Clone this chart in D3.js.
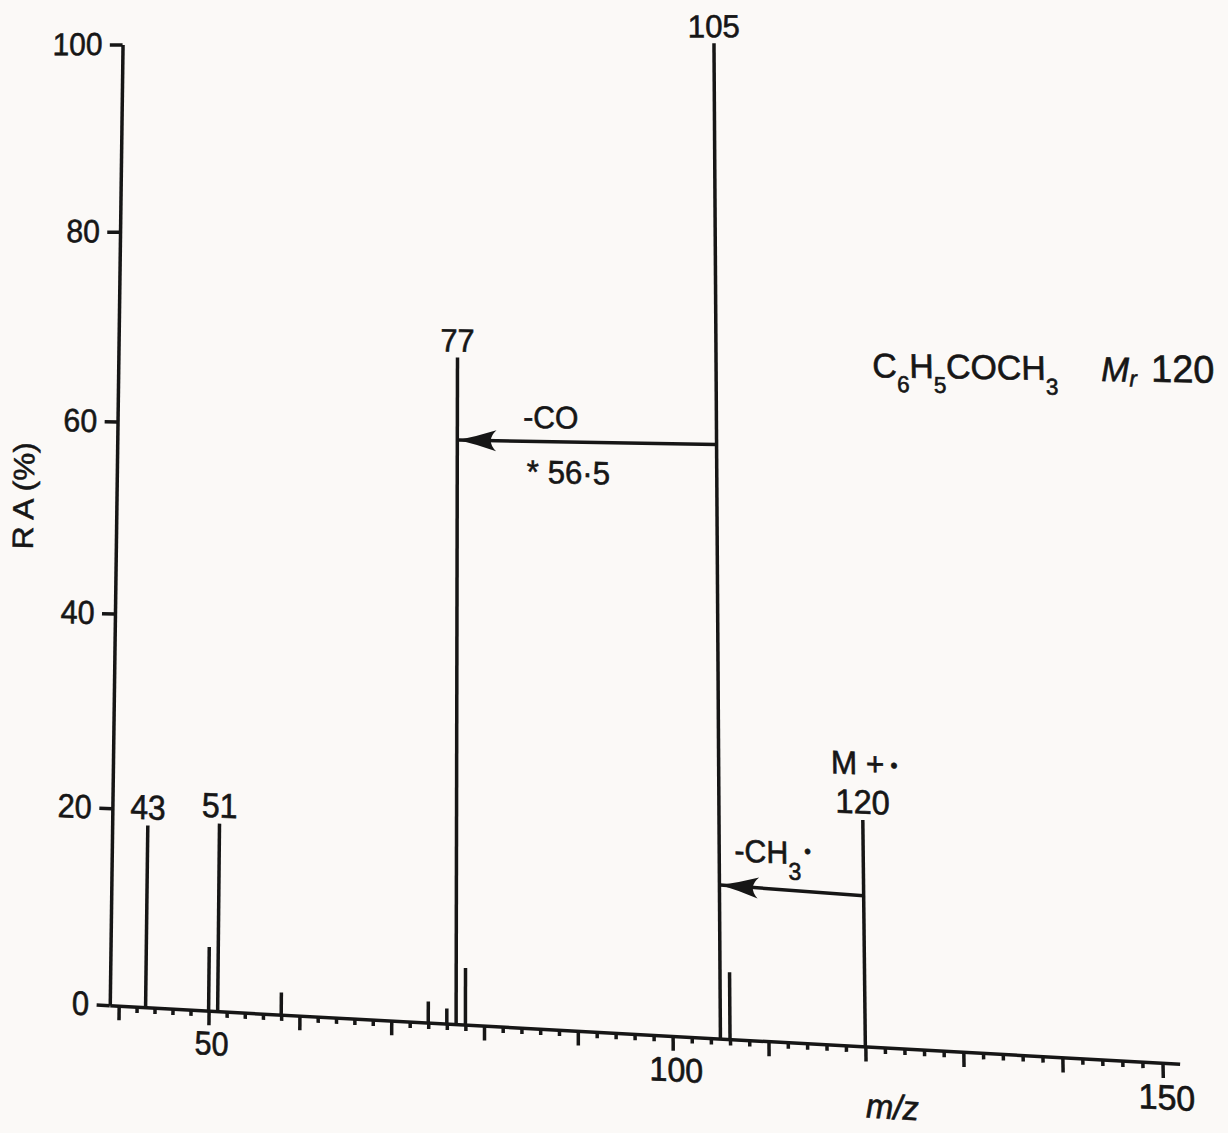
<!DOCTYPE html>
<html>
<head>
<meta charset="utf-8">
<script src="https://cdn.jsdelivr.net/npm/d3@7"></script>
<style>
  html, body { margin: 0; padding: 0; width: 1228px; height: 1133px; overflow: hidden; background: #fbf9f7; }
  #chart { position: absolute; left: 0; top: 0; }
  text { font-family: "Liberation Sans", Arial, sans-serif; fill: #161616; stroke: #161616; stroke-width: 0.6px; }
</style>
</head>
<body>
<svg id="chart" width="1228" height="1133"></svg>
<script>
// ---------------- data ----------------
const mzValues = [43, 50, 51, 58, 74, 76, 77, 78, 105, 106, 120];
const raValues = [18.4, 6.4, 18.9, 2.2, 2.1, 1.5, 67.3, 5.6, 100, 6.5, 22.0];
const labeledPeaks = [43, 51, 77, 105, 120];
const yTickValues = [0, 20, 40, 60, 80, 100];
const xTickValues = d3.range(40, 151, 2);
const xTickLabels = [50, 100, 150];
const yAxisTitle = "R A (%)";
const xAxisTitle = "m/z";
// fragmentation arrows: [from m/z, RA at start, to m/z, RA at tip]
const lossArrows = [[105, 58.9, 77, 58.8], [120, 14.6, 105, 15.0]];

// camera calibration of the photographed page: [m/z, RA, photo x, photo y]
const photoCalibration = [
  [39, 0, 109, 1007], [40, 0, 117, 1008], [50, 0, 210, 1010], [80, 0, 488, 1019],
  [100, 0, 675, 1031], [120, 0, 863, 1043], [140, 0, 1064, 1062], [150, 0, 1163, 1068],
  [39, 20, 110, 812], [39, 40, 115, 617], [39, 60, 118, 422], [39, 80, 121, 231],
  [39, 100, 124, 42], [105, 100, 712, 44], [105, 0, 717, 1035]
];

// ---------------- chart (flat page coordinates) ----------------
const ink = "#161616";
const lw = 3.5;
const svg = d3.select("#chart");
svg.append("rect").attr("width", 1228).attr("height", 1133).attr("fill", "#fbf9f7");
const plot = svg.append("g");
const x = d3.scaleLinear().domain([39, 151.7]).range([110, 1180]);
const y = d3.scaleLinear().domain([0, 100]).range([1008, 42]);
const at = (mz, ra) => [x(mz), y(ra)];

const defs = svg.append("defs");
defs.append("marker")
  .attr("id", "barb").attr("markerUnits", "userSpaceOnUse")
  .attr("viewBox", "-42 -13 44 26").attr("refX", 0).attr("refY", 0)
  .attr("markerWidth", 44).attr("markerHeight", 26).attr("orient", "auto")
  .append("path")
  .attr("d", "M0,0 Q-18,-4 -38,-10.5 Q-27,0 -38,10.5 Q-18,4 0,0Z")
  .attr("fill", ink);

// y axis
const gy = plot.append("g").attr("transform", `translate(${x(39)},0)`)
  .call(d3.axisLeft(y).tickValues(yTickValues).tickSize(14).tickSizeOuter(0).tickPadding(8));
gy.attr("color", ink).attr("font-family", null).attr("font-size", null);
gy.select(".domain").attr("stroke-width", lw);
gy.selectAll(".tick line").attr("stroke-width", lw);
gy.selectAll(".tick text").style("font-size", "33px");

// x axis
const gx = plot.append("g").attr("transform", `translate(0,${y(0)})`)
  .call(d3.axisBottom(x).tickValues(xTickValues).tickSizeOuter(0)
    .tickFormat(d => xTickLabels.includes(d) ? d : ""));
gx.attr("color", ink).attr("font-family", null).attr("font-size", null);
gx.select(".domain").attr("stroke-width", lw);
gx.selectAll(".tick line").attr("stroke-width", lw).attr("y2", d => d % 10 === 0 ? 14 : 6);
gx.selectAll(".tick text").attr("y", 20).attr("dx", 3).style("font-size", "32px");

// peaks
const peaks = mzValues.map((mz, i) => ({ mz, ra: raValues[i] }));
plot.append("g").selectAll("line").data(peaks).join("line")
  .attr("x1", d => x(d.mz)).attr("x2", d => x(d.mz))
  .attr("y1", y(0)).attr("y2", d => y(d.ra))
  .attr("stroke", ink).attr("stroke-width", lw);

plot.append("g").selectAll("text").data(peaks.filter(d => labeledPeaks.includes(d.mz))).join("text")
  .attr("x", d => x(d.mz)).attr("y", d => y(d.ra) - 6)
  .attr("text-anchor", "middle").style("font-size", d => d.mz < 60 ? "34px" : "32px")
  .text(d => d.mz);

// molecular ion tag
const mIon = peaks.find(d => d.mz === 120);
const mt = plot.append("text").attr("x", x(mIon.mz) + 2).attr("y", y(mIon.ra) - 43)
  .attr("text-anchor", "middle").style("font-size", "31px");
mt.append("tspan").text("M +");
mt.append("tspan").attr("dx", 6).attr("dy", -3).style("font-size", "20px").text("•");

// loss arrows
plot.append("g").selectAll("line").data(lossArrows).join("line")
  .attr("x1", d => x(d[0])).attr("y1", d => y(d[1]))
  .attr("x2", d => x(d[2]) + 1).attr("y2", d => y(d[3]))
  .attr("stroke", ink).attr("stroke-width", lw).attr("marker-end", "url(#barb)");

const [coX, coY] = at(84.2, 60.2);
plot.append("text").attr("x", coX).attr("y", coY).style("font-size", "31px").text("-CO");
const [msX, msY] = at(84.6, 54.6);
plot.append("text").attr("x", msX).attr("y", msY).style("font-size", "32px").text("* 56·5");

const [chX, chY] = at(106.6, 17.4);
const ch = plot.append("text").attr("x", chX).attr("y", chY).style("font-size", "30px");
ch.append("tspan").text("-CH");
ch.append("tspan").attr("dy", 15).style("font-size", "23px").text("3");
ch.append("tspan").attr("dy", -21).attr("dx", 3).style("font-size", "19px").text("•");

// compound formula
const [fX, fY] = at(121.7, 66.0);
const ft = plot.append("text").attr("x", fX).attr("y", fY).style("font-size", "33px");
[["C", 0], ["6", 1], ["H", 0], ["5", 1], ["COCH", 0], ["3", 1]].forEach(([t, sub], i, arr) => {
  const prevSub = i > 0 && arr[i - 1][1];
  const dy = sub ? 14 : (prevSub ? -14 : 0);
  ft.append("tspan").attr("dy", dy).style("font-size", sub ? "22px" : "33px").text(t);
});
ft.append("tspan").attr("dy", -14).attr("dx", 42).style("font-style", "italic").text("M");
ft.append("tspan").attr("dy", 5).style("font-style", "italic").style("font-size", "22px").text("r");
ft.append("tspan").attr("dy", -5).attr("dx", 14).style("font-size", "37px").text("120");

// axis titles
plot.append("text")
  .attr("transform", `translate(${x(39) - 90},${y(52)}) rotate(-90)`)
  .attr("text-anchor", "middle").style("font-size", "32px").text(yAxisTitle);
plot.append("text").attr("x", x(122.7)).attr("y", y(0) + 66)
  .attr("text-anchor", "middle").style("font-size", "32px").style("font-style", "italic")
  .text(xAxisTitle);

// ---------------- photographic perspective (homography fitted to the page) ----------------
function gauss(M, r) {
  const n = r.length, m = M.map((row, i) => [...row, r[i]]);
  for (let col = 0; col < n; col++) {
    let p = col;
    for (let i = col + 1; i < n; i++) if (Math.abs(m[i][col]) > Math.abs(m[p][col])) p = i;
    const tmp = m[col]; m[col] = m[p]; m[p] = tmp;
    for (let i = 0; i < n; i++) {
      if (i === col) continue;
      const fct = m[i][col] / m[col][col];
      for (let j = col; j <= n; j++) m[i][j] -= fct * m[col][j];
    }
  }
  return m.map((row, i) => row[n] / row[i]);
}
function fitHomography(pairs) {
  const s = 1000, A = [], B = [];
  pairs.forEach(([X, Y, u, v]) => {
    X /= s; Y /= s; u /= s; v /= s;
    A.push([X, Y, 1, 0, 0, 0, -X * u, -Y * u]); B.push(u);
    A.push([0, 0, 0, X, Y, 1, -X * v, -Y * v]); B.push(v);
  });
  const M = Array.from({ length: 8 }, () => new Array(8).fill(0)), r = new Array(8).fill(0);
  A.forEach((row, k) => {
    for (let i = 0; i < 8; i++) {
      r[i] += row[i] * B[k];
      for (let j = 0; j < 8; j++) M[i][j] += row[i] * row[j];
    }
  });
  const hv = gauss(M, r);
  return [hv[0], hv[1], hv[2] * s, hv[3], hv[4], hv[5] * s, hv[6] / s, hv[7] / s];
}

function photograph(rootSel, plotSel, Hm) {
  const [h0, h1, h2, h3, h4, h5, h6, h7] = Hm;
  const P = p => {
    const w = h6 * p.x + h7 * p.y + 1;
    return { x: (h0 * p.x + h1 * p.y + h2) / w, y: (h3 * p.x + h4 * p.y + h5) / w };
  };
  const Jac = p => {
    const w = h6 * p.x + h7 * p.y + 1, q = P(p);
    const m11 = (h0 - q.x * h6) / w, m12 = (h1 - q.x * h7) / w;
    const m21 = (h3 - q.y * h6) / w, m22 = (h4 - q.y * h7) / w;
    return new DOMMatrix([m11, m21, m12, m22, q.x - m11 * p.x - m12 * p.y, q.y - m21 * p.x - m22 * p.y]);
  };
  const out = rootSel.append("g").attr("color", ink).node();
  const num = (el, k) => Number(el.getAttribute(k)) || 0;
  plotSel.selectAll("line, path.domain, text").nodes().forEach(el => {
    const T = DOMMatrix.fromMatrix(el.getCTM());
    if (el.tagName === "text") {
      const anchor = getComputedStyle(el).textAnchor;
      const bb = el.getBBox();
      const p0 = new DOMPoint(bb.x + bb.width / 2, bb.y + bb.height / 2).matrixTransform(T);
      const F = Jac(p0).multiply(T);
      el.setAttribute("text-anchor", anchor);
      el.setAttribute("transform", `matrix(${F.a},${F.b},${F.c},${F.d},${F.e},${F.f})`);
      out.appendChild(el);
    } else {
      let s, t;
      if (el.tagName === "line") {
        s = new DOMPoint(num(el, "x1"), num(el, "y1"));
        t = new DOMPoint(num(el, "x2"), num(el, "y2"));
      } else {
        const a0 = el.getPointAtLength(0), a1 = el.getPointAtLength(el.getTotalLength());
        s = new DOMPoint(a0.x, a0.y); t = new DOMPoint(a1.x, a1.y);
      }
      const ps = P(s.matrixTransform(T)), pt = P(t.matrixTransform(T));
      const ln = document.createElementNS("http://www.w3.org/2000/svg", "line");
      ln.setAttribute("x1", ps.x); ln.setAttribute("y1", ps.y);
      ln.setAttribute("x2", pt.x); ln.setAttribute("y2", pt.y);
      ln.setAttribute("stroke", ink);
      ln.setAttribute("stroke-width", el.getAttribute("stroke-width") || lw);
      if (el.getAttribute("marker-end")) ln.setAttribute("marker-end", el.getAttribute("marker-end"));
      out.appendChild(ln);
    }
  });
  plotSel.remove();
}

const Hm = fitHomography(photoCalibration.map(([mz, ra, px, py]) => [x(mz), y(ra), px, py]));
photograph(svg, plot, Hm);
</script>
</body>
</html>
